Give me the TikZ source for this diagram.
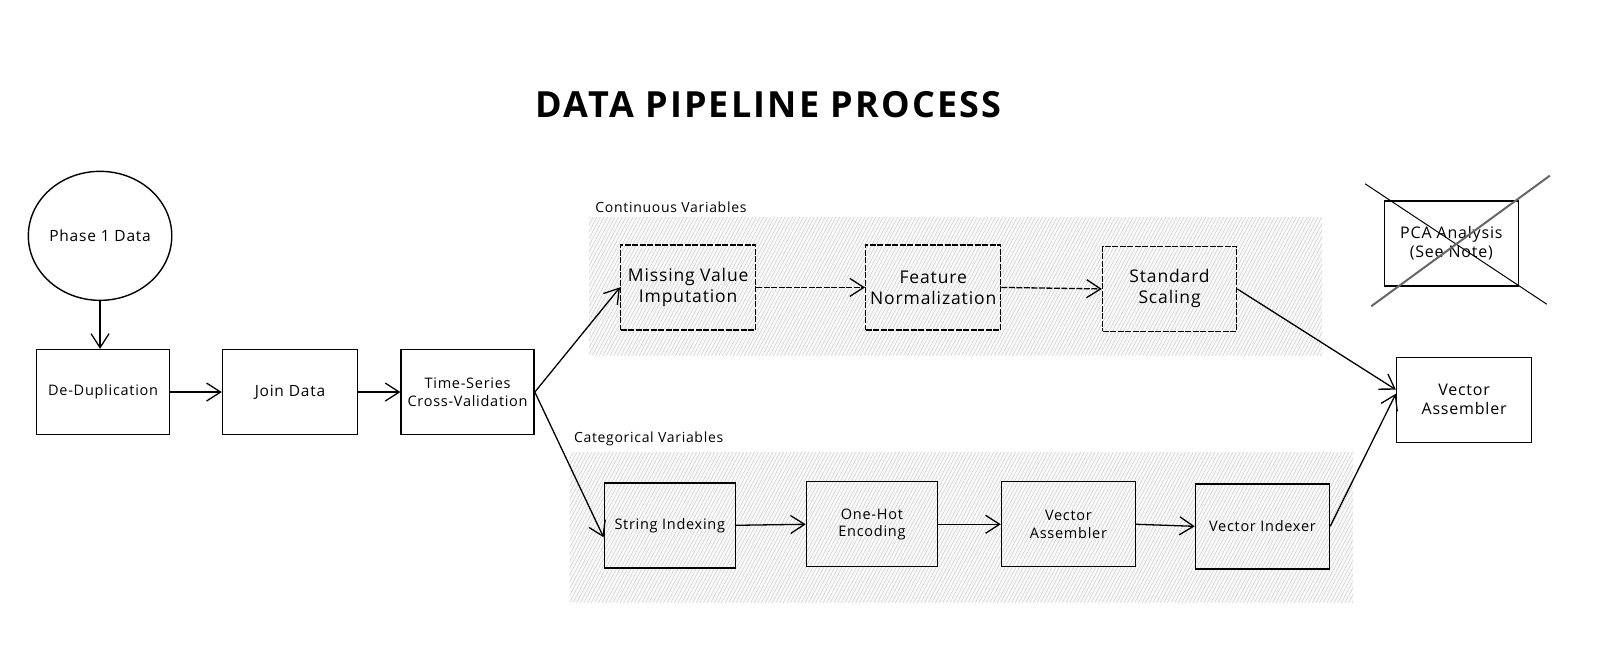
\documentclass[tikz,border=0pt]{standalone}
\usepackage{fontspec}
\setmainfont{Open Sans}[LetterSpace=5]
\newfontfamily\titlefont[LetterSpace=6]{Open Sans}
\usetikzlibrary{arrows.meta,shapes.geometric,patterns.meta}
\tikzset{
  box/.style={draw=black, line width=1.4pt, rectangle, minimum width=134, minimum height=85, align=center, inner sep=2pt, font=\fontsize{14.5}{17.5}\selectfont},
  dbox/.style={box, dash pattern=on 6pt off 1.5pt, font=\fontsize{17.5}{21}\selectfont},
  blob/.style={draw=black, line width=1.4pt, ellipse, minimum width=143, minimum height=129, inner sep=0pt, font=\fontsize{15.5}{18}\selectfont},
  conn/.style={draw=black, line width=1.3pt, -{Straight Barb[length=14pt,width=18pt,line width=1.3pt]}},
  dconn/.style={conn, dash pattern=on 6pt off 1.5pt},
  hatch/.style={pattern={Lines[angle=62,distance=3.2pt,line width=0.5pt]}, pattern color=gray!38},
  grouplabel/.style={anchor=south west, inner sep=0pt, font=\fontsize{14}{17}\selectfont},
}
\begin{document}
\begin{tikzpicture}[x=1.021pt,y=-1.021pt]
\useasboundingbox (0,0) rectangle (1567.1,644.5);
\fill[white] (0,0) rectangle (1567.1,644.5);
% hatched group regions
\fill[gray!5] (577,213) rectangle (1295,348);
\path[hatch] (577,213) rectangle (1295,348);
\fill[gray!5] (558,443) rectangle (1325,590);
\path[hatch] (558,443) rectangle (1325,590);
% title
\node[font=\fontsize{36}{40}\selectfont\titlefont\bfseries] (title) at (753,102) {DATA PIPELINE PROCESS};
% group labels
\node[grouplabel] (contlab) at (583,208) {Continuous Variables};
\node[grouplabel] (catlab) at (562,437) {Categorical Variables};
% nodes
\node[blob] (phase) at (98,231) {Phase 1 Data};
\node[box, minimum width=133] (dedup) at (101,384) {De-Duplication};
\node[box, minimum width=135, font=\fontsize{15.5}{18}\selectfont] (join) at (284,384) {Join Data};
\node[box, minimum width=133] (ts) at (458,384) {Time-Series\\Cross-Validation};
\node[dbox, minimum width=135] (mvi) at (674,281.5) {Missing Value\\Imputation};
\node[dbox, minimum width=135] (fn) at (914,281.5) {Feature\\Normalization};
\node[dbox] (ss) at (1145.5,283) {Standard\\Scaling};
\node[box, minimum width=131] (si) at (656,514.5) {String Indexing};
\node[box, minimum width=131] (ohe) at (854,513.5) {One-Hot\\Encoding};
\node[box] (va1) at (1046.5,513.5) {Vector\\Assembler};
\node[box] (vi) at (1236.5,515.5) {Vector Indexer};
\node[box, minimum width=135, font=\fontsize{16}{19}\selectfont] (va2) at (1434,391.5) {Vector\\Assembler};
\node[box, font=\fontsize{16}{19}\selectfont] (pca) at (1421.5,238.5) {PCA Analysis\\(See Note)};
% cross over PCA
\draw[black, line width=1pt] (1337,180) -- (1515,298);
\draw[black!60, line width=2pt] (1343,300) -- (1518,172);
% connectors
\draw[conn] (phase.south) -- (dedup.north -| phase.south);
\draw[conn] (dedup.east) -- (join.west);
\draw[conn] (join.east) -- (ts.west);
\draw[conn] (ts.east) -- (mvi.west);
\draw[conn] (ts.east) -- ([yshift=-12pt]si.west);
\draw[dconn] (mvi.east) -- (fn.west);
\draw[dconn] (fn.east) -- (ss.west);
\draw[conn] (ss.east) -- ([yshift=10pt]va2.west);
\draw[conn] (si.east) -- (ohe.west);
\draw[conn] (ohe.east) -- (va1.west);
\draw[conn] (va1.east) -- (vi.west);
\draw[conn] (vi.east) -- ([yshift=6pt]va2.west);
\end{tikzpicture}
\end{document}
